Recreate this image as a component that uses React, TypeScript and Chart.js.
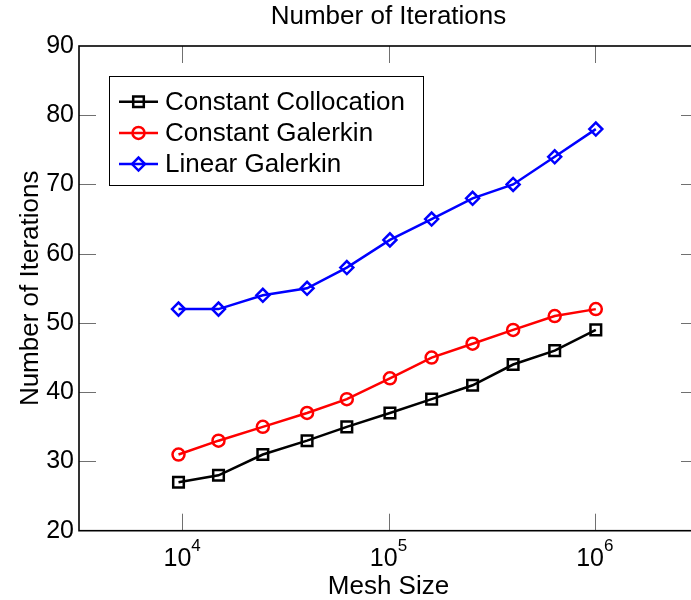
import React, { useEffect, useRef } from 'react';
import { Chart, registerables } from 'chart.js';

Chart.register(...registerables);

const meshSizes = [9600, 15000, 24600, 40300, 62800, 101600, 161800, 255600, 401800, 639000, 1011000];
const constantCollocation = [27, 28, 31, 33, 35, 37, 39, 41, 44, 46, 49];
const constantGalerkin = [31, 33, 35, 37, 39, 42, 45, 47, 49, 51, 52];
const linearGalerkin = [52, 52, 54, 55, 58, 62, 65, 68, 70, 74, 78];
const seriesNames = ['Constant Collocation', 'Constant Galerkin', 'Linear Galerkin'];
const seriesColors = ['#000000', '#ff0000', '#0000ff'];
const seriesMarkers = ['rect', 'circle', 'rectRot'];
const yTickValues = [20, 30, 40, 50, 60, 70, 80, 90];
const xTickExponents = [4, 5, 6];
const xRangeExponents = [3.5, 6.5];
const titleText = 'Number of Iterations';
const xLabelText = 'Mesh Size';
const yLabelText = 'Number of Iterations';

const FONT = '"Liberation Sans", Arial, Helvetica, sans-serif';
const W = 710;
const H = 600;

function drawMarker(ctx: CanvasRenderingContext2D, style: string, x: number, y: number, r: number) {
  ctx.beginPath();
  if (style === 'rect') {
    const s = Math.SQRT1_2 * r;
    ctx.rect(x - s, y - s, 2 * s, 2 * s);
  } else if (style === 'circle') {
    ctx.arc(x, y, r, 0, Math.PI * 2);
  } else {
    ctx.moveTo(x - r, y);
    ctx.lineTo(x, y - r);
    ctx.lineTo(x + r, y);
    ctx.lineTo(x, y + r);
    ctx.closePath();
  }
  ctx.stroke();
}

const markerRadius: Record<string, number> = { rect: 7.5, circle: 6, rectRot: 6.5 };

const matlabPlugin = {
  id: 'matlabAxes',
  afterDraw(chart: any) {
    const { ctx, chartArea: a, scales } = chart;
    const xs = scales.x;
    const ys = scales.y;
    const TL = 17;
    ctx.save();

    // tick marks (inward, on all four sides)
    ctx.strokeStyle = '#707070';
    ctx.lineWidth = 1;
    const line = (x1: number, y1: number, x2: number, y2: number) => {
      ctx.beginPath();
      ctx.moveTo(x1, y1);
      ctx.lineTo(x2, y2);
      ctx.stroke();
    };
    yTickValues.forEach((v) => {
      if (v === yTickValues[0] || v === yTickValues[yTickValues.length - 1]) return;
      const py = Math.round(ys.getPixelForValue(v)) + 0.5;
      line(a.left, py, a.left + TL, py);
      line(a.right - TL, py, a.right, py);
    });
    xTickExponents.forEach((e) => {
      const px = Math.round(xs.getPixelForValue(Math.pow(10, e))) + 0.5;
      line(px, a.bottom, px, a.bottom - TL);
      line(px, a.top, px, a.top + TL);
    });

    // axes box
    ctx.strokeStyle = '#000';
    ctx.lineWidth = 1.6;
    ctx.strokeRect(a.left, a.top, a.right - a.left, a.bottom - a.top);

    // x tick labels 10^n
    ctx.fillStyle = '#000';
    ctx.textBaseline = 'alphabetic';
    ctx.textAlign = 'left';
    xTickExponents.forEach((e) => {
      const px = xs.getPixelForValue(Math.pow(10, e));
      ctx.font = `25px ${FONT}`;
      const w10 = ctx.measureText('10').width;
      ctx.font = `17px ${FONT}`;
      const wE = ctx.measureText(String(e)).width;
      const start = px - (w10 + wE) / 2;
      ctx.font = `25px ${FONT}`;
      ctx.fillText('10', start, 566);
      ctx.font = `17px ${FONT}`;
      ctx.fillText(String(e), start + w10, 551);
    });

    // title
    const cx = (a.left + a.right) / 2;
    ctx.textAlign = 'center';
    ctx.font = `26px ${FONT}`;
    ctx.fillText(titleText, cx, 24);
    // x label
    ctx.fillText(xLabelText, cx, 594);
    // y label
    ctx.save();
    ctx.translate(38, (a.top + a.bottom) / 2);
    ctx.rotate(-Math.PI / 2);
    ctx.fillText(yLabelText, 0, 0);
    ctx.restore();

    // legend
    const lx = a.left + 30;
    const ly = a.top + 30;
    const lw = 314;
    const lh = 109;
    ctx.fillStyle = '#fff';
    ctx.fillRect(lx, ly, lw, lh);
    ctx.strokeStyle = '#000';
    ctx.lineWidth = 1;
    ctx.strokeRect(lx + 0.5, ly + 0.5, lw, lh);
    seriesNames.forEach((name, i) => {
      const ry = ly + 25.7 + i * 31.2;
      ctx.strokeStyle = seriesColors[i];
      ctx.lineWidth = 2.5;
      ctx.beginPath();
      ctx.moveTo(lx + 10, ry);
      ctx.lineTo(lx + 49, ry);
      ctx.stroke();
      drawMarker(ctx, seriesMarkers[i], lx + 29.5, ry, markerRadius[seriesMarkers[i]]);
      ctx.fillStyle = '#000';
      ctx.textAlign = 'left';
      ctx.textBaseline = 'middle';
      ctx.font = `26px ${FONT}`;
      ctx.fillText(name, lx + 56, ry + 1);
    });

    ctx.restore();
  },
};

export default function App() {
  const ref = useRef<HTMLCanvasElement | null>(null);

  useEffect(() => {
    if (!ref.current) return;
    const series = [constantCollocation, constantGalerkin, linearGalerkin];
    const chart = new Chart(ref.current, {
      type: 'line',
      data: {
        datasets: series.map((vals, i) => ({
          label: seriesNames[i],
          data: meshSizes.map((x, j) => ({ x, y: vals[j] })),
          borderColor: seriesColors[i],
          backgroundColor: 'rgba(0,0,0,0)',
          borderWidth: 2.5,
          pointStyle: seriesMarkers[i] as any,
          pointRadius: markerRadius[seriesMarkers[i]],
          pointBorderWidth: 2.5,
          pointBorderColor: seriesColors[i],
          pointBackgroundColor: 'rgba(0,0,0,0)',
          tension: 0,
          fill: false,
        })),
      },
      options: {
        responsive: false,
        animation: false,
        devicePixelRatio: 1,
        layout: { padding: { top: 46, right: 12, left: 0, bottom: 0 } },
        plugins: {
          legend: { display: false },
          title: { display: false },
          tooltip: { enabled: false },
        },
        scales: {
          x: {
            type: 'logarithmic',
            min: Math.pow(10, xRangeExponents[0]),
            max: Math.pow(10, xRangeExponents[1]),
            grid: { display: false, drawTicks: false },
            border: { display: false },
            ticks: { display: false },
            afterFit: (scale: any) => {
              scale.height = 69.3;
            },
          },
          y: {
            type: 'linear',
            min: yTickValues[0],
            max: yTickValues[yTickValues.length - 1],
            grid: { display: false, drawTicks: false },
            border: { display: false },
            ticks: {
              stepSize: 10,
              color: '#000',
              padding: 5,
              font: { family: FONT, size: 25 },
            },
            afterFit: (scale: any) => {
              scale.width = 79;
            },
          },
        },
      },
      plugins: [matlabPlugin],
    });
    return () => chart.destroy();
  }, []);

  return (
    <div style={{ position: 'fixed', left: 0, top: 0, width: 691, height: 600, overflow: 'hidden', background: '#fff' }}>
      <canvas ref={ref} width={W} height={H} style={{ width: W, height: H, display: 'block' }} />
    </div>
  );
}
